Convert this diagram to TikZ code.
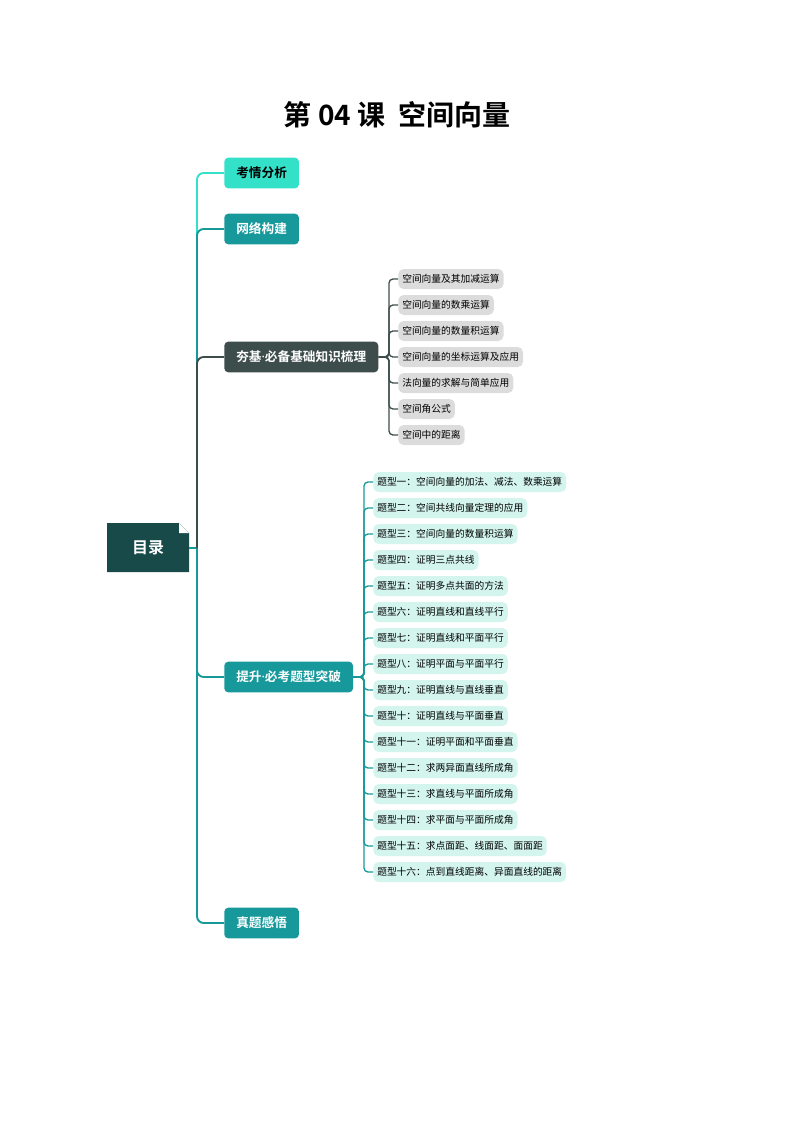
\documentclass[tikz,border=0pt]{standalone}
\usepackage{fontspec}
\setmainfont{Noto Sans CJK SC}
\newfontfamily\cjkbold{Noto Sans CJK SC Bold}
\newfontfamily\latinbold{Noto Sans}[BoldFont=*]
\newcommand{\middot}{{\latinbold\bfseries ·}}
\usetikzlibrary{positioning}
\definecolor{rootc}{HTML}{184A4A}
\definecolor{lightc}{HTML}{33E0C8}
\definecolor{tealc}{HTML}{17999B}
\definecolor{darkc}{HTML}{3D4D4B}
\definecolor{greyc}{HTML}{DCDCDC}
\definecolor{mintc}{HTML}{D3F5EE}
\tikzset{
  mainbox/.style={rectangle, rounded corners=3pt, anchor=west, minimum height=23pt, inner xsep=9pt, font=\cjkbold\fontsize{9.5}{10}\selectfont},
  subbox/.style={rectangle, rounded corners=4pt, anchor=west, minimum height=15pt, inner xsep=3pt, font=\fontsize{7.3}{8}\selectfont},
  branch/.style={line width=1.4pt, rounded corners=5pt},
  twig/.style={line width=1pt}
}
\begin{document}
\begin{tikzpicture}[x=0.75pt,y=-0.75pt]
\useasboundingbox (0,0) rectangle (794,1123);
% title
\node (title) at (397,115) {\cjkbold\fontsize{21}{24}\selectfont 第 04 课\ \ 空间向量};
% root
\fill[rootc] (107,523) -- (179,523) -- (189,533) -- (189,572) -- (107,572) -- cycle;
\fill[white] (179,523) -- (189,533) -- (179,533) -- cycle;
\node[text=white, font=\cjkbold\fontsize{12}{14}\selectfont] (root) at (148,548) {目录};
\draw[tealc, twig] (189,548) -- (197,548);
% main nodes
\node[mainbox, fill=lightc] (kq) at (224,173) {考情分析};
\node[mainbox, fill=tealc, text=white] (wl) at (224,229) {网络构建};
\node[mainbox, fill=darkc, text=white] (hj) at (224,357) {夯基\middot 必备基础知识梳理};
\node[mainbox, fill=tealc, text=white] (ts) at (224,677) {提升\middot 必考题型突破};
\node[mainbox, fill=tealc, text=white] (zt) at (224,923) {真题感悟};
\draw[lightc, branch] (197,548) |- (kq.west);
\draw[tealc, branch] (197,548) |- (wl.west);
\draw[darkc, branch] (197,548) |- (hj.west);
\draw[tealc, branch] (197,548) |- (ts.west);
\draw[tealc, branch] (197,548) |- (zt.west);
% basic knowledge
\foreach \t [count=\i] in {空间向量及其加减运算, 空间向量的数乘运算, 空间向量的数量积运算, 空间向量的坐标运算及应用, 法向量的求解与简单应用, 空间角公式, 空间中的距离} {
  \node[subbox, fill=greyc] (b\i) at (398,253+26*\i) {\t};
  \draw[darkc, twig, rounded corners=3pt] (hj.east) -- (389,357) |- (b\i.west);
}
% question types
\foreach \t [count=\i] in {题型一：空间向量的加法、减法、数乘运算, 题型二：空间共线向量定理的应用, 题型三：空间向量的数量积运算, 题型四：证明三点共线, 题型五：证明多点共面的方法, 题型六：证明直线和直线平行, 题型七：证明直线和平面平行, 题型八：证明平面与平面平行, 题型九：证明直线与直线垂直, 题型十：证明直线与平面垂直, 题型十一：证明平面和平面垂直, 题型十二：求两异面直线所成角, 题型十三：求直线与平面所成角, 题型十四：求平面与平面所成角, 题型十五：求点面距、线面距、面面距, 题型十六：点到直线距离、异面直线的距离} {
  \node[subbox, fill=mintc] (q\i) at (373,456+26*\i) {\t};
  \draw[tealc, twig, rounded corners=3pt] (ts.east) -- (364,677) |- (q\i.west);
}
\end{tikzpicture}
\end{document}
